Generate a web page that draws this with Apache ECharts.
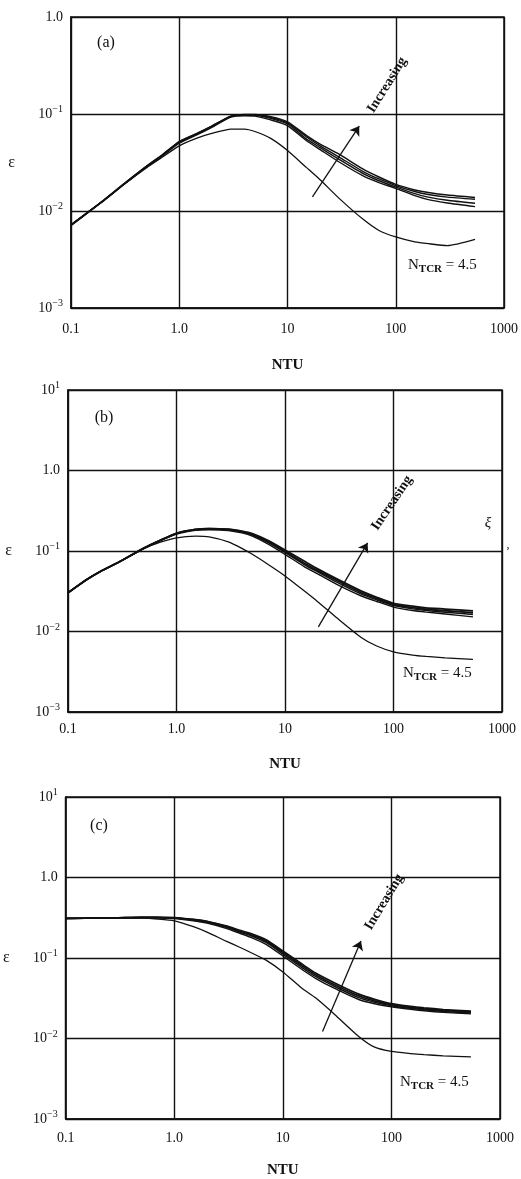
<!DOCTYPE html>
<html>
<head>
<meta charset="utf-8">
<script src="https://cdn.jsdelivr.net/npm/echarts@6/dist/echarts.min.js"></script>
<style>
  html, body { margin: 0; padding: 0; background: #fff; }
  #main { width: 521px; height: 1179px; }
</style>
</head>
<body>
<div id="main"></div>
<script>
// NTU sample points shared by all curves
const ntu = [0.1,0.15,0.2,0.3,0.5,0.7,1,1.5,2,3,4,5,7,10,15,20,30,50,70,100,150,200,300,540];

// panel (a)
const a1 = [0.0072,0.0101,0.0129,0.0186,0.029,0.038,0.052,0.064,0.075,0.095,0.099,0.099,0.094,0.083,0.060,0.049,0.0385,0.027,0.0224,0.0188,0.0165,0.0155,0.0146,0.0138];
const a2 = [0.0072,0.0101,0.0129,0.0186,0.029,0.038,0.052,0.064,0.075,0.095,0.098,0.098,0.092,0.081,0.058,0.047,0.036,0.0255,0.0214,0.0183,0.0159,0.0148,0.0139,0.0132];
const a3 = [0.0071,0.0100,0.0128,0.0184,0.0287,0.0375,0.051,0.063,0.074,0.094,0.097,0.097,0.090,0.079,0.055,0.045,0.034,0.0243,0.0205,0.0177,0.0151,0.0139,0.0129,0.0120];
const a4 = [0.0071,0.0100,0.0127,0.0183,0.0285,0.037,0.050,0.062,0.073,0.093,0.096,0.095,0.087,0.076,0.053,0.043,0.032,0.023,0.0196,0.0171,0.0144,0.0131,0.0121,0.0111];
const a45 = [0.0072,0.0101,0.0129,0.0184,0.028,0.036,0.047,0.057,0.063,0.070,0.070,0.066,0.056,0.042,0.028,0.021,0.0135,0.0082,0.0063,0.0054,0.0048,0.0046,0.0044,0.0051];

// panel (b)
const b1 = [0.0303,0.0445,0.056,0.074,0.109,0.135,0.166,0.186,0.190,0.187,0.177,0.165,0.135,0.103,0.075,0.060,0.045,0.032,0.0266,0.0224,0.0206,0.0197,0.0190,0.0180];
const b2 = [0.0303,0.0445,0.056,0.074,0.109,0.135,0.166,0.185,0.189,0.185,0.174,0.161,0.131,0.099,0.071,0.057,0.043,0.0305,0.0255,0.0216,0.0198,0.0189,0.0181,0.0171];
const b3 = [0.0302,0.0443,0.0558,0.0737,0.108,0.134,0.164,0.183,0.187,0.183,0.172,0.158,0.127,0.096,0.068,0.055,0.041,0.0293,0.0247,0.0210,0.0191,0.0182,0.0173,0.0163];
const b4 = [0.0302,0.0442,0.0556,0.0734,0.107,0.133,0.162,0.181,0.184,0.180,0.168,0.153,0.122,0.091,0.064,0.052,0.0385,0.0278,0.0236,0.0201,0.0182,0.0174,0.0165,0.0152];
const b45 = [0.0303,0.0445,0.056,0.074,0.107,0.128,0.146,0.153,0.150,0.130,0.108,0.091,0.068,0.049,0.032,0.0235,0.0148,0.0085,0.0066,0.0056,0.0051,0.0049,0.0047,0.0045];

// panel (c)
const c1 = [0.31,0.312,0.314,0.316,0.32,0.32,0.318,0.302,0.286,0.250,0.221,0.202,0.168,0.122,0.084,0.065,0.049,0.0356,0.0307,0.0271,0.0250,0.0240,0.0229,0.0218];
const c2 = [0.31,0.312,0.314,0.316,0.32,0.32,0.316,0.299,0.282,0.245,0.216,0.196,0.162,0.117,0.080,0.062,0.0465,0.0338,0.0294,0.0263,0.0243,0.0233,0.0223,0.0213];
const c3 = [0.31,0.312,0.314,0.316,0.319,0.318,0.313,0.295,0.277,0.240,0.210,0.190,0.156,0.112,0.076,0.059,0.0443,0.0322,0.0282,0.0256,0.0237,0.0227,0.0217,0.0208];
const c4 = [0.31,0.311,0.313,0.315,0.318,0.316,0.309,0.290,0.271,0.233,0.203,0.182,0.148,0.106,0.072,0.056,0.0418,0.0305,0.0270,0.0248,0.0231,0.0221,0.0211,0.0202];
const c45 = [0.31,0.312,0.313,0.314,0.313,0.305,0.290,0.245,0.210,0.162,0.136,0.118,0.094,0.067,0.042,0.032,0.0199,0.0106,0.0078,0.0069,0.0065,0.0063,0.0061,0.0059];

// "Increasing" arrows, [NTU, eps] start and end
const arrowA = [[17, 0.014], [46, 0.075]];
const arrowB = [[20.3, 0.0114], [57.7, 0.126]];
const arrowC = [[23.2, 0.0122], [52.4, 0.163]];

// axis ranges
const xRange = [0.1, 1000];
const yRangeA = [0.001, 1];
const yRangeBC = [0.001, 10];

const FONT = 'Liberation Serif';
const INK = '#111';

function pairs(ys) {
    return ntu.map((x, i) => [x, ys[i]]);
}

function xLabel(v) {
    let e = Math.round(Math.log10(v));
    if (e === -1) return '0.1';
    if (e === 0) return '1.0';
    return String(Math.pow(10, e));
}

function yLabel(v) {
    let e = Math.round(Math.log10(v));
    if (e === 0) return '1.0';
    let p = e < 0 ? '\u2212' + (-e) : String(e);
    return '{b|10}{s|' + p + '}';
}

function makeX(idx, margin, gap) {
    return {
        type: 'log', logBase: 10, gridIndex: idx,
        min: xRange[0], max: xRange[1],
        name: 'NTU', nameLocation: 'middle', nameGap: gap,
        nameTextStyle: { fontFamily: FONT, fontSize: 15, fontWeight: 'bold', color: INK },
        axisLine: { show: true, lineStyle: { color: INK, width: 1.5 } },
        axisTick: { show: false },
        axisLabel: { formatter: xLabel, margin: margin, fontFamily: FONT, fontSize: 14, color: INK },
        splitLine: { show: true, lineStyle: { color: INK, width: 1.4 } },
        minorTick: { show: false }
    };
}

function makeY(idx, range) {
    return {
        type: 'log', logBase: 10, gridIndex: idx,
        min: range[0], max: range[1],
        name: 'ε', nameLocation: 'middle', nameRotate: 0, nameGap: 56,
        nameTextStyle: { fontFamily: FONT, fontSize: 16, color: INK },
        axisLine: { show: true, lineStyle: { color: INK, width: 1.5 } },
        axisTick: { show: false },
        axisLabel: {
            formatter: yLabel, margin: 8, fontFamily: FONT, fontSize: 14, color: INK,
            rich: {
                b: { fontFamily: FONT, fontSize: 14, color: INK },
                s: { fontFamily: FONT, fontSize: 10, color: INK, padding: [0, 0, 9, 0] }
            }
        },
        splitLine: { show: true, lineStyle: { color: INK, width: 1.4 } }
    };
}

function curve(idx, ys, width) {
    return {
        type: 'line', xAxisIndex: idx, yAxisIndex: idx,
        data: pairs(ys), showSymbol: false, smooth: 0.2,
        lineStyle: { color: INK, width: width }, silent: true
    };
}

function arrow(idx, ys, pts) {
    let s = curve(idx, ys, 1.3);
    s.markLine = {
        silent: true, symbol: ['none', 'arrow'], symbolSize: 9,
        label: { show: false },
        lineStyle: { color: INK, width: 1.3, type: 'solid' },
        emphasis: { disabled: true },
        data: [[{ coord: pts[0] }, { coord: pts[1] }]]
    };
    return s;
}

function txt(x, y, text, opts) {
    return {
        type: 'text', x: x, y: y,
        style: Object.assign({ text: text, font: '15px "Liberation Serif"', fill: INK,
            align: 'center', verticalAlign: 'middle' }, opts || {})
    };
}

function inc(x, y, deg) {
    return {
        type: 'text', x: x, y: y, rotation: deg * Math.PI / 180,
        style: { text: 'Increasing', font: 'bold 14px "Liberation Serif"', fill: INK,
            align: 'center', verticalAlign: 'middle' }
    };
}

function ntcr(x, y) {
    return {
        type: 'text', x: x, y: y,
        style: {
            text: '{n|N}{t|TCR}{n| = 4.5}', fill: INK, align: 'left', verticalAlign: 'middle',
            rich: {
                n: { fontFamily: FONT, fontSize: 15, fill: INK },
                t: { fontFamily: FONT, fontSize: 11, fontWeight: 'bold', fill: INK, padding: [8, 0, 0, 0] }
            }
        }
    };
}

let chart = echarts.init(document.getElementById('main'));
let option = {
    animation: false,
    backgroundColor: '#fff',
    grid: [
        { left: 71, top: 17, width: 433, height: 291, show: true, borderColor: INK, borderWidth: 1.5 },
        { left: 68, top: 390, width: 434, height: 322, show: true, borderColor: INK, borderWidth: 1.5 },
        { left: 65, top: 797, width: 435, height: 326, show: true, borderColor: INK, borderWidth: 1.5 }
    ],
    xAxis: [makeX(0, 14, 50), makeX(1, 10, 45), makeX(2, 12, 44)],
    yAxis: [makeY(0, yRangeA), makeY(1, yRangeBC), makeY(2, yRangeBC)],
    series: [
        curve(0, a1, 1.5), curve(0, a2, 1.4), curve(0, a3, 1.4), curve(0, a4, 1.4), arrow(0, a45, arrowA),
        curve(1, b1, 1.8), curve(1, b2, 1.8), curve(1, b3, 1.5), curve(1, b4, 1.4), arrow(1, b45, arrowB),
        curve(2, c1, 1.8), curve(2, c2, 1.8), curve(2, c3, 1.5), curve(2, c4, 1.4), arrow(2, c45, arrowC)
    ],
    graphic: [
        txt(106, 43, '(a)', { font: '16px "Liberation Serif"' }),
        txt(104, 418, '(b)', { font: '16px "Liberation Serif"' }),
        txt(99, 826, '(c)', { font: '16px "Liberation Serif"' }),
        inc(387, 85, 58),
        inc(392, 503, 56),
        inc(384, 902, 59),
        ntcr(408, 265),
        ntcr(403, 673),
        ntcr(400, 1082),
        txt(488, 523, 'ξ', { font: 'italic 15px "Liberation Serif"' }),
        txt(508, 545, ',', { font: '12px "Liberation Serif"' })
    ]
};
chart.setOption(option);
</script>
</body>
</html>
